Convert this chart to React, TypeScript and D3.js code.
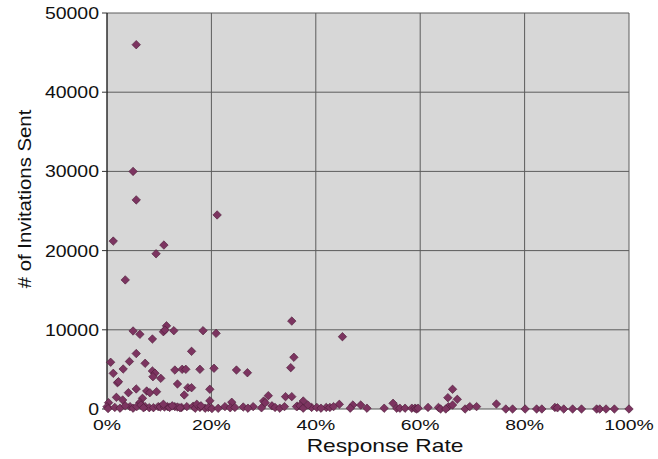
import React, {useRef, useEffect} from 'react'
import {scaleLinear, select, symbol} from 'd3'

// response rate (%) and # of invitations
const rates = [
  5.6, 5.0, 5.6, 1.2, 3.5, 10.9, 9.4, 21.1,
  35.4, 5.0, 6.3, 11.4, 10.8, 11.1, 12.8, 18.4, 20.9, 8.7, 45.1,
  5.6, 16.2, 35.8, 35.2, 0.7, 4.3, 7.3,
  1.2, 3.1, 8.7, 9.2, 8.8, 10.3, 13.0, 14.4, 15.1, 17.8, 20.5, 24.8, 26.9,
  2.0, 2.2, 13.5, 5.6, 4.1, 7.6, 8.2, 9.5, 15.5, 16.2, 19.7, 14.8,
  1.8, 6.8, 6.3, 3.0, 30.9, 34.2, 35.4, 30.0, 30.3, 19.7, 0.3, 0, 0.2,
  66.2, 65.3, 67.1, 74.6, 37.6, 44.5, 54.8, 47.1, 48.6, 65.4, 66.2, 23.9,
  4.4, 5.0, 5.7, 7.3, 8.1, 8.9, 9.8, 10.2, 11.0, 11.6, 13.0, 13.5, 14.3, 15.3, 16.5, 16.9, 17.8, 18.8, 19.4, 20.1,
  21.3, 22.6, 23.6, 26.1, 28.0, 29.6, 31.6, 32.2, 33.1, 36.5, 36.3, 37.0, 37.6, 39.2, 40.2,
  42.0, 42.7, 43.4, 46.6, 49.8, 53.1, 55.5, 56.1, 57.1, 58.4, 59.0, 59.3, 59.6,
  61.5, 63.5, 63.9, 64.9, 68.6, 69.5, 70.8, 76.4, 77.7, 80.1,
  82.3, 83.3, 85.8, 86.3, 87.5, 89.2, 90.9, 93.8, 94.4, 95.6, 97.2, 100,
  1.5, 2.5, 3.5, 6.5, 7.0, 10.8, 12.0, 12.5, 14.0, 17.2, 18.0, 24.5, 27.0, 34.0, 38.5, 41.0,
]
const invitations = [
  46000, 30000, 26400, 21200, 16300, 20700, 19600, 24500,
  11100, 9850, 9430, 10500, 9760, 9970, 9890, 9890, 9550, 8840, 9130,
  7000, 7280, 6530, 5220, 5900, 6000, 5770,
  4500, 5050, 4800, 4510, 4080, 3870, 4920, 5010, 5010, 5010, 5140, 4920, 4580,
  3320, 3450, 3160, 2530, 2060, 2270, 2060, 2190, 2690, 2690, 2490, 1770,
  1470, 1350, 810, 1140, 1680, 1560, 1560, 1000, 800, 1040, 800, 290, 50,
  2490, 1430, 1220, 630, 1010, 590, 720, 500, 500, 290, 500, 850,
  300, 100, 300, 300, 170, 170, 300, 250, 250, 300, 300, 250, 200, 300, 350, 100, 200, 100, 200, 50,
  80, 300, 150, 250, 300, 150, 400, 200, 100, 350, 300, 400, 100, 200, 200,
  200, 200, 300, 100, 100, 100, 100, 100, 100, 100, 100, 0, 100,
  200, 200, 0, 0, 0, 300, 300, 0, 0, 0,
  0, 0, 200, 150, 0, 0, 0, 0, 0, 0, 0, 0,
  200, 100, 400, 500, 150, 600, 200, 400, 150, 600, 400, 200, 100, 300, 500, 100,
]
const yTicks = [0, 10000, 20000, 30000, 40000, 50000]
const xTicks = [0, 20, 40, 60, 80, 100]

const width = 658
const height = 459
const font = "'Liberation Sans', Arial, sans-serif"

const diamond = {
  draw(ctx, size) {
    const r = Math.sqrt(size / 2)
    ctx.moveTo(0, -r)
    ctx.lineTo(r, 0)
    ctx.lineTo(0, r)
    ctx.lineTo(-r, 0)
    ctx.closePath()
  },
}

const App = () => {
  const svgRef = useRef(null)

  useEffect(() => {
    const left = 107, right = 629, top = 13, bottom = 409
    const x = scaleLinear().domain([0, 100]).range([left, right])
    const y = scaleLinear().domain([0, 50000]).range([bottom, top])
    const svg = select(svgRef.current)
    svg.selectAll('*').remove()

    svg.append('rect')
      .attr('x', left).attr('y', top)
      .attr('width', right - left).attr('height', bottom - top)
      .attr('fill', '#d7d7d7')

    svg.selectAll('line.hgrid')
      .data(yTicks.slice(1))
      .join('line')
      .attr('x1', left).attr('x2', right)
      .attr('y1', d => y(d)).attr('y2', d => y(d))
      .attr('stroke', '#5c5c5c').attr('stroke-width', 1)

    svg.selectAll('line.vgrid')
      .data(xTicks.slice(1))
      .join('line')
      .attr('x1', d => x(d)).attr('x2', d => x(d))
      .attr('y1', top).attr('y2', bottom)
      .attr('stroke', '#5c5c5c').attr('stroke-width', 1)

    // axes
    svg.append('line')
      .attr('x1', left).attr('x2', right).attr('y1', bottom).attr('y2', bottom)
      .attr('stroke', '#555').attr('stroke-width', 1)
    svg.append('line')
      .attr('x1', left).attr('x2', left).attr('y1', top).attr('y2', bottom + 1)
      .attr('stroke', '#111').attr('stroke-width', 1.3)

    svg.selectAll('line.ytick')
      .data(yTicks)
      .join('line')
      .attr('x1', left - 5).attr('x2', left)
      .attr('y1', d => y(d)).attr('y2', d => y(d))
      .attr('stroke', '#333')

    svg.selectAll('text.ylab')
      .data(yTicks)
      .join('text')
      .attr('transform', d => `translate(${left - 8},${y(d) + 6}) scale(1.18,1)`)
      .attr('text-anchor', 'end')
      .attr('font-family', font).attr('font-size', 16.5)
      .attr('fill', '#111')
      .text(d => d)

    svg.selectAll('text.xlab')
      .data(xTicks)
      .join('text')
      .attr('transform', d => `translate(${x(d)},${430}) scale(1.25,1)`)
      .attr('text-anchor', 'middle')
      .attr('font-family', font).attr('font-size', 15.5)
      .attr('fill', '#111')
      .text(d => d + '%')

    svg.append('text')
      .attr('transform', `translate(385,452) scale(1.3,1)`)
      .attr('text-anchor', 'middle')
      .attr('font-family', font).attr('font-size', 17.5)
      .attr('fill', '#111')
      .text('Response Rate')

    svg.append('text')
      .attr('transform', `translate(31,199) rotate(-90) scale(1.1,1)`)
      .attr('text-anchor', 'middle')
      .attr('font-family', font).attr('font-size', 18.5)
      .attr('fill', '#111')
      .text('# of Invitations Sent')

    const pts = rates.map((r, i) => ({r, v: invitations[i]}))
    svg.selectAll('path.pt')
      .data(pts)
      .join('path')
      .attr('transform', d => `translate(${x(d.r)},${y(d.v)})`)
      .attr('d', symbol(diamond, 36)())
      .attr('fill', '#7c3460')
      .attr('stroke', '#4a1a35')
      .attr('stroke-width', 0.6)
  }, [])

  return (
    <svg ref={svgRef} width={width} height={height}
      style={{position: 'absolute', left: 0, top: 0, background: '#fff'}} />
  )
}

export default App
